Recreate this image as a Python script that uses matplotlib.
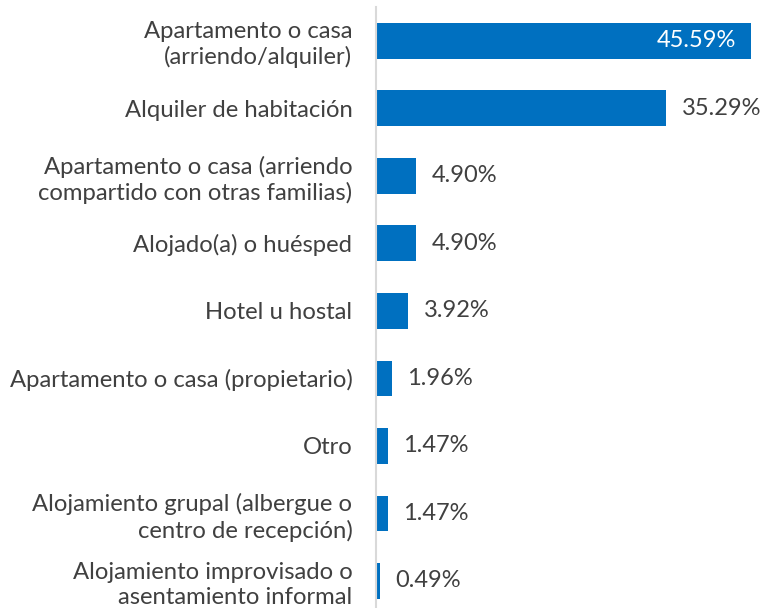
import matplotlib.pyplot as plt

categories = [
    "Apartamento o casa\n(arriendo/alquiler)",
    "Alquiler de habitación",
    "Apartamento o casa (arriendo\ncompartido con otras familias)",
    "Alojado(a) o huésped",
    "Hotel u hostal",
    "Apartamento o casa (propietario)",
    "Otro",
    "Alojamiento grupal (albergue o\ncentro de recepción)",
    "Alojamiento improvisado o\nasentamiento informal",
]
values = [45.59, 35.29, 4.90, 4.90, 3.92, 1.96, 1.47, 1.47, 0.49]

plt.rcParams['font.family'] = ['Lato', 'DejaVu Sans']
text_color = "#404040"
bar_color = "#0070C0"

fig = plt.figure(figsize=(7.64, 6.08), dpi=100)
ax = fig.add_axes([376 / 764, 0, 1 - 376 / 764, 1 - 7 / 608])

pos = list(range(len(values)))
ax.barh(pos, values, height=0.53, color=bar_color)
ax.set_ylim(8.4, -0.5)
ax.set_xlim(0, 388 / 8.23)

ax.set_yticks(pos)
ax.set_yticklabels(categories, fontsize=17.2, color=text_color, ha="right",
                   linespacing=1.22)
ax.tick_params(axis="y", length=0, pad=17)
ax.set_xticks([])

for s in ["top", "right", "bottom"]:
    ax.spines[s].set_visible(False)
ax.spines["left"].set_color("#d9d9d9")
ax.spines["left"].set_linewidth(1.5)

for i, v in enumerate(values):
    label = "{:.2f}%".format(v)
    if v > 40:
        ax.annotate(label, (v, i), xytext=(-11, 0), textcoords="offset points",
                    ha="right", va="center", fontsize=17, color="white")
    else:
        ax.annotate(label, (v, i), xytext=(11, 0), textcoords="offset points",
                    ha="left", va="center", fontsize=17, color=text_color)

fig.savefig("out.png", dpi=100)
